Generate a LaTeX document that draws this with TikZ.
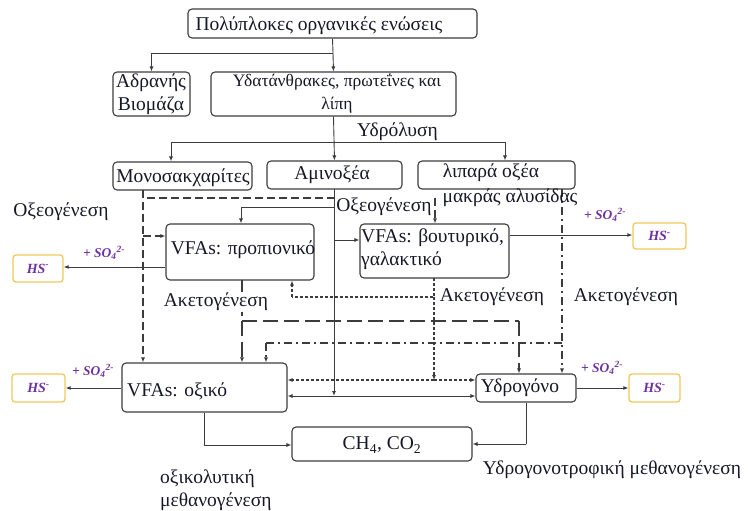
\documentclass[tikz,border=0pt]{standalone}
\usepackage{fontspec}
\setmainfont{Liberation Serif}
\usetikzlibrary{arrows.meta}
\definecolor{txt}{RGB}{22,24,40}
\definecolor{edge}{RGB}{60,60,60}
\definecolor{purp}{RGB}{112,48,160}
\definecolor{gold}{RGB}{240,200,90}
\tikzset{
  box/.style={draw=edge, line width=1.1pt, rounded corners=4pt, inner sep=0pt, fill=white},
  hsbox/.style={draw=gold, line width=1.3pt, rounded corners=3pt, inner sep=0pt, fill=white,
     font=\fontsize{14}{16}\selectfont\bfseries\itshape, text=purp},
  lbl/.style={inner sep=0pt, text=txt, font=\fontsize{19.5}{23}\selectfont},
  so/.style={inner sep=0pt, text=purp, font=\fontsize{13.5}{15}\selectfont\bfseries\itshape},
  arr/.style={-{Latex[length=5pt,width=4pt]}},
  conn/.style={draw=edge, line width=0.9pt},
  dsh/.style={draw=edge, line width=1.5pt, dash pattern=on 8pt off 4pt},
  ddsh/.style={draw=edge, line width=1.2pt, dash pattern=on 3pt off 2pt},
  ldsh/.style={draw=edge, line width=2pt, dash pattern=on 15pt off 6pt},
  ddot/.style={draw=edge, line width=1.2pt, dash pattern=on 8pt off 4pt on 2pt off 4pt},
}
\begin{document}
\begin{tikzpicture}[x=1pt,y=-1pt]
\useasboundingbox (0,0) rectangle (748,511);
% boxes
\node[box, minimum width=289pt, minimum height=29pt] (top) at (332.5,23.5) {};
\node[box, minimum width=77pt, minimum height=44pt] (adr) at (151.5,94) {};
\node[box, minimum width=245pt, minimum height=44pt] (ydat) at (333.5,94) {};
\node[box, minimum width=139pt, minimum height=28pt] (mono) at (182.5,176) {};
\node[box, minimum width=135pt, minimum height=28pt] (amino) at (334.5,175) {};
\node[box, minimum width=157pt, minimum height=28pt] (lip) at (496.5,175) {};
\node[box, minimum width=148pt, minimum height=56pt] (prop) at (240,252) {};
\node[box, minimum width=149pt, minimum height=54pt] (but) at (434.5,251) {};
\node[box, minimum width=165pt, minimum height=49pt] (oxik) at (204.5,387.5) {};
\node[box, minimum width=100pt, minimum height=28pt] (ydro) at (526,388) {};
\node[box, minimum width=180pt, minimum height=34pt] (ch4) at (382,444) {};
\node[hsbox, minimum width=50pt, minimum height=27pt] (hs1) at (38,268.5) {HS\textsuperscript{-}};
\node[hsbox, minimum width=53pt, minimum height=26pt] (hs2) at (659.5,236) {HS\textsuperscript{-}};
\node[hsbox, minimum width=53pt, minimum height=28pt] (hs3) at (38.5,388) {HS\textsuperscript{-}};
\node[hsbox, minimum width=51pt, minimum height=28pt] (hs4) at (654.5,388) {HS\textsuperscript{-}};
% box texts
\node[lbl] (ttop) at (319,26) {Πολύπλοκες οργανικές ενώσεις};
\node[lbl, align=center] (tadr) at (151,94) {Αδρανής\\Βιομάζα};
\node[lbl, align=center, font=\fontsize{17.5}{23}\selectfont] (tydat) at (337,94) {Υδατάνθρακες, πρωτεΐνες και\\λίπη};
\node[lbl] (tmono) at (183,178) {Μονοσακχαρίτες};
\node[lbl] (tamino) at (332,175) {Αμινοξέα};
\node[lbl] (tlip) at (491,173) {λιπαρά οξέα};
\node[lbl] (tprop) at (243,250) {VFAs: προπιονικό};
\node[lbl, align=left, anchor=west] (tbut) at (361,249) {VFAs: βουτυρικό,\\γαλακτικό};
\node[lbl, anchor=west] (toxik) at (127,391) {VFAs: οξικό};
\node[lbl] (tydro) at (520,388) {Υδρογόνο};
\node[lbl] (tch4) at (382,445) {CH\textsubscript{4}, CO\textsubscript{2}};
% connectors: top level
\coordinate (j1) at (333,53);
\draw[conn] (top.south) -- (j1);
\draw[conn,arr] (j1) -| (adr.north);
\draw[conn,arr] (j1) -- (ydat.north);
% hydrolysis
\coordinate (h1) at (171,142);
\coordinate (h2) at (505,142);
\draw[conn,arr] (ydat.south) -- (amino.north);
\draw[conn,arr] (h1) -- (h1 |- mono.north);
\draw[conn] (h1) -- (h2);
\draw[conn,arr] (h2) -- (h2 |- lip.north);
% monosaccharides dashed
\coordinate (m0) at (143,190);
\coordinate (m1) at (143,198);
\coordinate (m2) at (435,198);
\coordinate (m3) at (143,236);
\draw[dsh] (m0) -- (m1) -- (m2);
\draw[dsh,arr] (m2) -- (m2 |- but.north);
\draw[dsh,arr] (m0) -- (m0 |- oxik.north);
\draw[dsh,arr] (m3) -- (m3 -| prop.west);
% amino acids solid
\coordinate (a0) at (334,189);
\coordinate (a1) at (334,207);
\coordinate (a2) at (241,207);
\coordinate (a3) at (334,240);
\coordinate (a4) at (334,396);
\draw[conn,arr] (a0) -- (a4);
\draw[conn] (a1) -- (a2);
\draw[conn,arr] (a2) -- (a2 |- prop.north);
\draw[conn,arr] (a3) -- (a3 -| but.west);
\draw[conn,arr] (a4) -- (a4 -| oxik.east);
\draw[conn,arr] (a4) -- (a4 -| ydro.west);
% butyric densely dashed
\coordinate (b0) at (434,278);
\coordinate (b1) at (434,297);
\coordinate (b2) at (292,297);
\coordinate (b3) at (434,380);
\draw[ddsh] (b0) -- (b1) -- (b2);
\draw[ddsh,arr] (b2) -- (b2 |- prop.south);
\draw[ddsh,arr] (b1) -- (b3);
\draw[ddsh,arr] (b3) -- (b3 -| oxik.east);
\draw[ddsh,arr] (b3) -- (b3 -| ydro.west);
% propionic long dashed
\coordinate (p0) at (242,280);
\coordinate (p1) at (242,321);
\coordinate (p2) at (519,321);
\draw[ldsh] (p0) -- (p1);
\draw[ldsh,arr] (p1) -- (p1 |- oxik.north);
\draw[ldsh] (p1) -- (p2);
\draw[ldsh,arr] (p2) -- (p2 |- ydro.north);
% fatty acids dash-dot
\coordinate (l0) at (562,189);
\coordinate (l1) at (562,343);
\coordinate (l2) at (266,343);
\draw[ddot,arr] (l0) -- (l0 |- ydro.north);
\draw[ddot] (l1) -- (l2);
\draw[ddot,arr] (l2) -- (l2 |- oxik.north);
% sulfate reduction
\draw[conn,arr] (prop.west |- 0,267) -- (hs1.east |- 0,267);
\draw[conn,arr] (but.east |- 0,235) -- (hs2.west |- 0,235);
\draw[conn,arr] (oxik.west |- 0,388) -- (hs3.east |- 0,388);
\draw[conn,arr] (ydro.east) -- (hs4.west);
% methanogenesis
\coordinate (c1) at (204,445);
\coordinate (c2) at (526,444);
\draw[conn] (oxik.south -| c1) -- (c1);
\draw[conn,arr] (c1) -- (c1 -| ch4.west);
\draw[conn] (ydro.south) -- (c2);
\draw[conn,arr] (c2) -- (c2 -| ch4.east);
% labels
\node[lbl] (lhyd) at (397.5,132) {Υδρόλυση};
\node[lbl] (lmak) at (510,198) {μακράς αλυσίδας};
\node[lbl] (lox1) at (61,212) {Οξεογένεση};
\node[lbl, fill=white, inner sep=1pt] (lox2) at (384,207) {Οξεογένεση};
\node[lbl, fill=white, inner sep=1pt] (lak1) at (216,302) {Ακετογένεση};
\node[lbl] (lak2) at (492,297) {Ακετογένεση};
\node[lbl] (lak3) at (626,297) {Ακετογένεση};
\node[lbl, align=left, anchor=west] (lmet) at (160,490) {οξικολυτική\\μεθανογένεση};
\node[lbl] (lhmet) at (612,470) {Υδρογονοτροφική μεθανογένεση};
\node[so] (s1) at (104,253) {+ SO\textsubscript{4}\textsuperscript{2-}};
\node[so] (s2) at (605,215) {+ SO\textsubscript{4}\textsuperscript{2-}};
\node[so] (s3) at (93,371) {+ SO\textsubscript{4}\textsuperscript{2-}};
\node[so] (s4) at (602,368) {+ SO\textsubscript{4}\textsuperscript{2-}};
\end{tikzpicture}
\end{document}
